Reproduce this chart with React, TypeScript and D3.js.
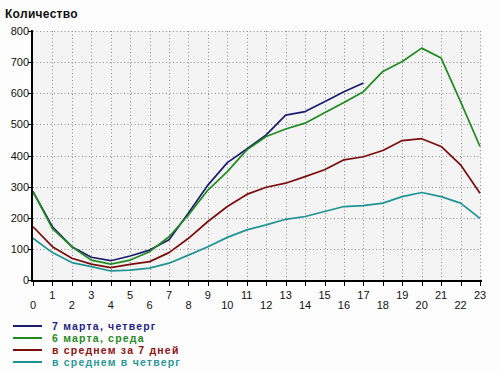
import React, { useEffect, useRef } from 'react'
import * as d3 from 'd3'

// hours of the day
const hours = d3.range(0, 24)

const march7Thu = [284, 171, 107, 73, 62, 77, 96, 129, 215, 305, 377, 421, 466, 530, 541, 573, 605, 633]
const march6Wed = [285, 165, 107, 64, 51, 64, 91, 139, 209, 289, 348, 418, 461, 485, 504, 537, 570, 605, 670, 702, 745, 713, 573, 429]
const avg7Days = [171, 107, 70, 51, 40, 50, 59, 88, 134, 188, 236, 275, 298, 311, 332, 354, 386, 396, 416, 448, 454, 429, 370, 279]
const avgThursday = [134, 88, 56, 43, 29, 32, 38, 54, 80, 107, 137, 161, 177, 195, 204, 220, 236, 239, 247, 268, 281, 268, 247, 198]

const yTicks = [0, 100, 200, 300, 400, 500, 600, 700, 800]

const series = [
  { name: '7 марта, четверг', values: march7Thu, color: '#1c1c6e', text: '#1f1f85' },
  { name: '6 марта, среда', values: march6Wed, color: '#1f8a1f', text: '#258a25' },
  { name: 'в среднем за 7 дней', values: avg7Days, color: '#7a0c0c', text: '#8e1010' },
  { name: 'в среднем в четверг', values: avgThursday, color: '#1f9393', text: '#2a9898' }
]

export default function App() {
  const ref = useRef<SVGSVGElement>(null)

  useEffect(() => {
    const width = 500
    const height = 371
    const left = 33
    const right = 481
    const top = 31
    const bottom = 280

    const svg = d3.select(ref.current)
    svg.selectAll('*').remove()
    svg.attr('width', width).attr('height', height)

    svg.append('rect').attr('width', width).attr('height', height).attr('fill', '#fdfdfd')

    const x = d3.scaleLinear().domain([0, 23]).range([left, right - 1])
    const y = d3.scaleLinear().domain([0, 800]).range([bottom, top])

    svg
      .append('rect')
      .attr('x', left)
      .attr('y', top)
      .attr('width', right - left)
      .attr('height', bottom - top)
      .attr('fill', '#f4f4f4')

    // grid
    const grid = svg.append('g').attr('stroke', '#8a8a8a').attr('stroke-dasharray', '1,2.5')
    grid
      .selectAll('line.v')
      .data(hours.slice(1))
      .enter()
      .append('line')
      .attr('x1', d => Math.round(x(d)) + 0.5)
      .attr('x2', d => Math.round(x(d)) + 0.5)
      .attr('y1', top)
      .attr('y2', bottom)
    grid
      .selectAll('line.h')
      .data(yTicks.slice(1))
      .enter()
      .append('line')
      .attr('x1', left)
      .attr('x2', right)
      .attr('y1', d => Math.round(y(d)) + 0.5)
      .attr('y2', d => Math.round(y(d)) + 0.5)

    // lines
    const line = d3
      .line<number>()
      .x((d, i) => x(hours[i]))
      .y(d => y(d))

    series.forEach(s => {
      svg
        .append('path')
        .datum(s.values)
        .attr('fill', 'none')
        .attr('stroke', s.color)
        .attr('stroke-width', 1.7)
        .attr('stroke-linejoin', 'round')
        .attr('d', line)
    })

    // axes
    svg
      .append('line')
      .attr('x1', left - 1)
      .attr('x2', right + 1)
      .attr('y1', bottom + 1)
      .attr('y2', bottom + 1)
      .attr('stroke', '#000')
      .attr('stroke-width', 2)
    svg
      .append('line')
      .attr('x1', left - 1)
      .attr('x2', left - 1)
      .attr('y1', top - 1)
      .attr('y2', bottom + 2)
      .attr('stroke', '#000')
      .attr('stroke-width', 2)

    const font = 'Liberation Sans, Arial, sans-serif'

    const xAx = svg.append('g')
    xAx
      .selectAll('line')
      .data(hours)
      .enter()
      .append('line')
      .attr('x1', d => Math.round(x(d)) + 0.5)
      .attr('x2', d => Math.round(x(d)) + 0.5)
      .attr('y1', bottom + 2)
      .attr('y2', bottom + 6)
      .attr('stroke', '#000')
    xAx
      .selectAll('text')
      .data(hours)
      .enter()
      .append('text')
      .attr('x', d => x(d))
      .attr('y', d => (d % 2 ? 299 : 309))
      .attr('text-anchor', 'middle')
      .attr('font-family', font)
      .attr('font-size', 11)
      .attr('fill', '#111')
      .text(d => d)

    const yAx = svg.append('g')
    yAx
      .selectAll('line')
      .data(yTicks)
      .enter()
      .append('line')
      .attr('x1', left - 5)
      .attr('x2', left - 1)
      .attr('y1', d => Math.round(y(d)) + 0.5)
      .attr('y2', d => Math.round(y(d)) + 0.5)
      .attr('stroke', '#000')
    yAx
      .selectAll('text')
      .data(yTicks)
      .enter()
      .append('text')
      .attr('x', left - 4)
      .attr('y', d => y(d) + 4)
      .attr('text-anchor', 'end')
      .attr('font-family', font)
      .attr('font-size', 11)
      .attr('fill', '#111')
      .text(d => d)

    svg
      .append('text')
      .attr('x', 5)
      .attr('y', 18)
      .attr('font-family', font)
      .attr('font-size', 12)
      .attr('font-weight', 'bold')
      .attr('letter-spacing', 0.3)
      .attr('fill', '#111')
      .text('Количество')

    // legend
    const legend = svg
      .selectAll('g.legend')
      .data(series)
      .enter()
      .append('g')
      .attr('transform', (d, i) => `translate(0, ${326 + i * 12})`)
    legend
      .append('line')
      .attr('x1', 13)
      .attr('x2', 42)
      .attr('stroke', d => d.color)
      .attr('stroke-width', 2)
    legend
      .append('text')
      .attr('x', 52)
      .attr('y', 4)
      .attr('font-family', font)
      .attr('font-size', 10.5)
      .attr('font-weight', 'bold')
      .attr('letter-spacing', 1.2)
      .attr('fill', d => d.text)
      .text(d => d.name)
  }, [])

  return <svg ref={ref} style={{ position: 'absolute', left: 0, top: 0 }} />
}
